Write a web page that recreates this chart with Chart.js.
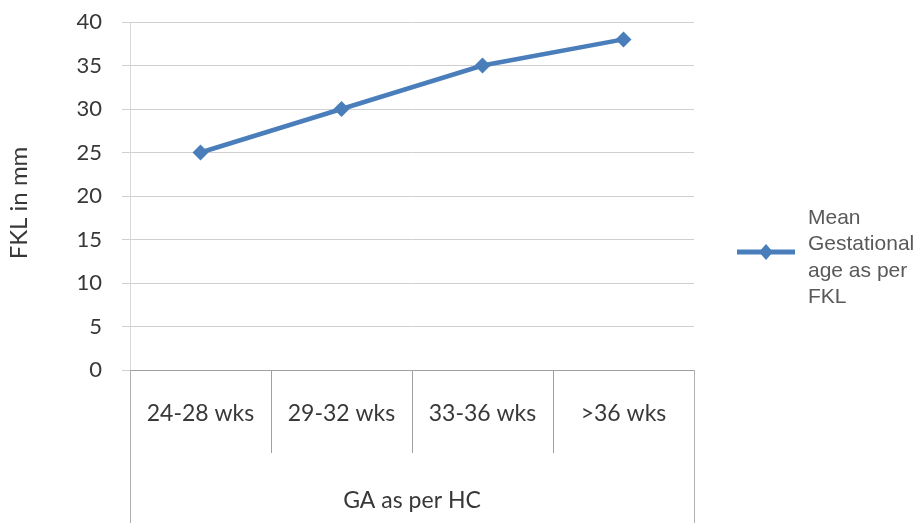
<!DOCTYPE html>
<html>
<head>
<meta charset="utf-8">
<script src="https://cdn.jsdelivr.net/npm/chart.js@4"></script>
<style>
  html, body { margin: 0; padding: 0; background: #fff; }
  #wrap { position: relative; width: 924px; height: 523px; }
</style>
</head>
<body>
<div id="wrap"><canvas id="fkl-chart" width="924" height="523"></canvas></div>
<script>
(function () {
    'use strict';

    var categories = ['24-28 wks', '29-32 wks', '33-36 wks', '>36 wks'];
    var meanFkl = [25, 30, 35, 38];
    var seriesLabel = ['Mean', 'Gestational', 'age as per', 'FKL'];
    var yTicks = [0, 5, 10, 15, 20, 25, 30, 35, 40];
    var xTitle = 'GA as per HC';
    var yTitle = 'FKL in mm';

    var blue = '#4a7ebb';
    var axisFont = '"Lato", "Open Sans", sans-serif';

    // Outer frame lines of the category box, y-axis title and the side legend.
    var extras = {
        id: 'extras',
        afterDraw: function (chart) {
            var c = chart.ctx;
            var x = chart.scales.x;
            var area = chart.chartArea;
            c.save();
            c.strokeStyle = '#b0b0b0';
            c.lineWidth = 1;
            [x.left, x.right].forEach(function (px) {
                c.beginPath();
                c.moveTo(Math.round(px) + 0.5, area.bottom);
                c.lineTo(Math.round(px) + 0.5, chart.height);
                c.stroke();
            });

            // y title
            c.fillStyle = '#383838';
            c.font = '24px ' + axisFont;
            c.textAlign = 'center';
            c.textBaseline = 'middle';
            c.translate(19, 203);
            c.rotate(-Math.PI / 2);
            c.fillText(yTitle, 0, 0);
            c.restore();

            // legend
            c.save();
            var ly = 252;
            c.strokeStyle = blue;
            c.lineWidth = 5;
            c.beginPath();
            c.moveTo(737, ly);
            c.lineTo(795, ly);
            c.stroke();
            c.fillStyle = blue;
            c.beginPath();
            c.moveTo(766, ly - 8);
            c.lineTo(773, ly);
            c.lineTo(766, ly + 8);
            c.lineTo(759, ly);
            c.closePath();
            c.fill();
            c.fillStyle = '#595959';
            c.font = '21px "Liberation Sans", Arial, sans-serif';
            c.textAlign = 'left';
            c.textBaseline = 'middle';
            seriesLabel.forEach(function (t, i) {
                c.fillText(t, 808, 218 + i * 26.5);
            });
            c.restore();
        }
    };

    new Chart(document.getElementById('fkl-chart'), {
        type: 'line',
        data: {
            labels: categories,
            datasets: [{
                label: seriesLabel.join(' '),
                data: meanFkl,
                borderColor: blue,
                backgroundColor: blue,
                borderWidth: 4.5,
                pointStyle: 'rectRot',
                pointRadius: 8,
                pointHoverRadius: 8,
                pointBorderWidth: 0,
                tension: 0
            }]
        },
        plugins: [extras],
        options: {
            responsive: false,
            animation: false,
            layout: { autoPadding: false, padding: { top: 22, right: 230, left: 0, bottom: 0 } },
            plugins: {
                legend: { display: false },
                tooltip: { enabled: false }
            },
            scales: {
                x: {
                    offset: true,
                    afterFit: function (s) { s.height = 153; },
                    grid: {
                        offset: true,
                        drawOnChartArea: false,
                        drawTicks: true,
                        tickLength: 83,
                        color: '#a0a0a0'
                    },
                    border: { color: '#a0a0a0' },
                    ticks: {
                        padding: -53,
                        maxRotation: 0,
                        autoSkip: false,
                        color: '#383838',
                        font: { family: axisFont, size: 23 }
                    },
                    title: {
                        display: true,
                        text: xTitle,
                        color: '#383838',
                        font: { family: axisFont, size: 23 },
                        padding: { top: 0, bottom: 9 }
                    }
                },
                y: {
                    min: 0,
                    max: 40,
                    // tick padding would otherwise push the plot top down
                    afterFit: function (s) {
                        s.width = 130;
                        s.paddingTop = 0;
                        s.paddingBottom = 0;
                    },
                    afterBuildTicks: function (s) {
                        s.ticks = yTicks.map(function (v) { return { value: v }; });
                    },
                    grid: {
                        color: '#d0d0d0',
                        tickLength: 8
                    },
                    border: { color: '#d8d8d8' },
                    ticks: {
                        padding: 20,
                        color: '#383838',
                        font: { family: axisFont, size: 22 }
                    }
                }
            }
        }
    });
})();
</script>
</body>
</html>
